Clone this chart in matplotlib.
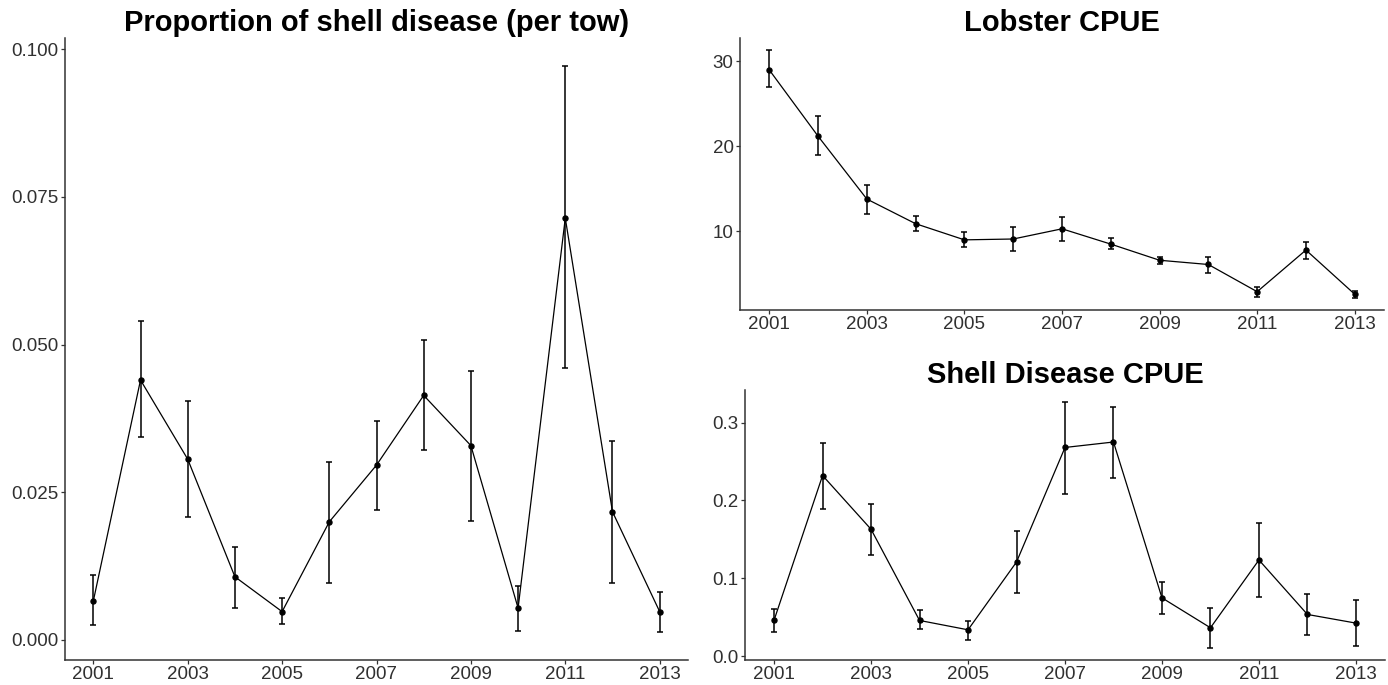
import matplotlib
matplotlib.use("Agg")
import matplotlib.pyplot as plt
import numpy as np

plt.rcParams['font.family'] = ['Liberation Sans', 'DejaVu Sans']

years = list(range(2001, 2014))

# Proportion of shell disease (per tow)
prop_mean = [0.0066, 0.0440, 0.0306, 0.0107, 0.0048, 0.0200, 0.0296, 0.0414, 0.0329, 0.0054, 0.0714, 0.0217, 0.0048]
prop_lo   = [0.0025, 0.0343, 0.0208, 0.0055, 0.0027, 0.0097, 0.0220, 0.0321, 0.0202, 0.0016, 0.0461, 0.0097, 0.0014]
prop_hi   = [0.0110, 0.0540, 0.0404, 0.0158, 0.0071, 0.0302, 0.0371, 0.0507, 0.0455, 0.0092, 0.0971, 0.0337, 0.0082]

# Lobster CPUE
lob_mean = [29.0, 21.2, 13.8, 10.9, 9.0, 9.1, 10.3, 8.5, 6.6, 6.1, 2.9, 7.8, 2.6]
lob_lo   = [27.0, 19.0, 12.1, 10.0, 8.2, 7.7, 8.9, 7.9, 6.1, 5.1, 2.3, 6.8, 2.2]
lob_hi   = [31.3, 23.6, 15.5, 11.8, 9.9, 10.5, 11.7, 9.2, 7.0, 7.0, 3.4, 8.8, 3.0]

# Shell Disease CPUE
sd_mean = [0.0464, 0.232, 0.163, 0.046, 0.034, 0.121, 0.268, 0.275, 0.075, 0.0366, 0.1236, 0.0537, 0.0426]
sd_lo   = [0.031, 0.189, 0.130, 0.0345, 0.021, 0.081, 0.208, 0.229, 0.0545, 0.011, 0.076, 0.027, 0.013]
sd_hi   = [0.061, 0.2735, 0.196, 0.059, 0.0456, 0.161, 0.326, 0.320, 0.095, 0.062, 0.171, 0.080, 0.072]

W, H = 1388, 685
fig = plt.figure(figsize=(W / 100, H / 100), dpi=100)


def px_axes(x0, x1, y0, y1):
    return fig.add_axes([x0 / W, (H - y1) / H, (x1 - x0) / W, (y1 - y0) / H])


AXC = '#333333'
TXT = '#303030'


def style(ax, title, yticks, yfmt):
    for s in ['top', 'right']:
        ax.spines[s].set_visible(False)
    for s in ['left', 'bottom']:
        ax.spines[s].set_color(AXC)
        ax.spines[s].set_linewidth(1.1)
    ax.set_xticks(list(range(2001, 2014, 2)))
    ax.set_yticks(yticks)
    ax.set_yticklabels([yfmt.format(v) for v in yticks])
    ax.tick_params(direction='out', length=2.6, width=0.9, color=AXC,
                   labelsize=13.5, labelcolor=TXT, pad=2)
    ax.set_xlim(2000.4, 2013.6)
    ax.set_title(title, fontsize=21, fontweight='bold', pad=5)


def draw(ax, mean, lo, hi):
    m = np.array(mean)
    yerr = [m - np.array(lo), np.array(hi) - m]
    ax.plot(years, mean, color='black', lw=0.9, zorder=2)
    ax.errorbar(years, mean, yerr=yerr, fmt='o', color='black', ms=3.6,
                ecolor='black', elinewidth=1.1, capsize=1.9, capthick=1.1, zorder=3)


def yl(lo, hi):
    r = max(hi) - min(lo)
    return min(lo) - 0.05 * r, max(hi) + 0.05 * r


ax1 = px_axes(65, 688, 38, 660)
draw(ax1, prop_mean, prop_lo, prop_hi)
ax1.set_ylim(*yl(prop_lo, prop_hi))
style(ax1, 'Proportion of shell disease (per tow)', [0.0, 0.025, 0.05, 0.075, 0.1], '{:.3f}')

ax2 = px_axes(740, 1384, 38, 310)
draw(ax2, lob_mean, lob_lo, lob_hi)
ax2.set_ylim(*yl(lob_lo, lob_hi))
style(ax2, 'Lobster CPUE', [10, 20, 30], '{:d}')

ax3 = px_axes(745, 1385, 390, 660)
draw(ax3, sd_mean, sd_lo, sd_hi)
ax3.set_ylim(*yl(sd_lo, sd_hi))
style(ax3, 'Shell Disease CPUE', [0.0, 0.1, 0.2, 0.3], '{:.1f}')

fig.savefig('out.png', dpi=100)
